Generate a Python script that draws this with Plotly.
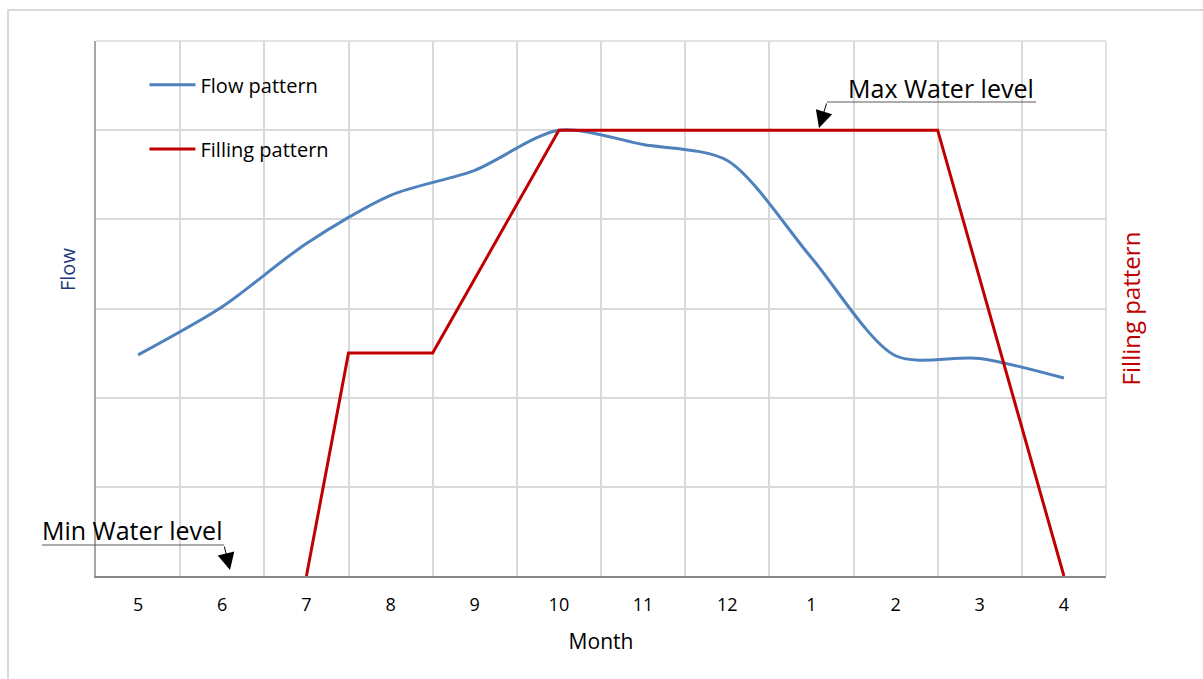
import plotly.graph_objects as go

months = ["5", "6", "7", "8", "9", "10", "11", "12", "1", "2", "3", "4"]
month_pos = list(range(len(months)))

flow_values = [2.48, 3.02, 3.73, 4.27, 4.55, 5.0, 4.84, 4.66, 3.57, 2.47, 2.44, 2.22]

fill_pos = [2, 2.5, 3.5, 5, 9.5, 11]
fill_values = [0, 2.5, 2.5, 5.0, 5.0, 0]

FONT = "Open Sans"
BLUE = "#4F81BD"
RED = "#C00000"
GRID = "#D9D9D9"

fig = go.Figure()
fig.add_trace(go.Scatter(x=month_pos, y=flow_values, mode="lines", name="Flow pattern",
                         line=dict(color=BLUE, width=3, shape="spline", smoothing=0.8),
                         legend="legend"))
fig.add_trace(go.Scatter(x=fill_pos, y=fill_values, mode="lines", name="Filling pattern",
                         line=dict(color=RED, width=3), yaxis="y2", legend="legend2"))

fig.update_layout(
    width=1203, height=679,
    margin=dict(l=96, r=97, t=41, b=103),
    paper_bgcolor="white", plot_bgcolor="white",
    font=dict(family=FONT, size=18, color="#000000"),
    xaxis=dict(range=[-0.5, 11.5], tickvals=month_pos, ticktext=months,
               showgrid=False, zeroline=False, showline=True, linecolor="#868686", linewidth=2,
               ticks="outside", ticklen=0, ticklabelstandoff=11, tickfont=dict(size=18),
               minor=dict(tick0=-0.5, dtick=1, showgrid=True, gridcolor=GRID, gridwidth=1.5),
               title=dict(text="Month", font=dict(size=21), standoff=20)),
    yaxis=dict(range=[0, 6], dtick=1, showticklabels=False, showgrid=True, gridcolor=GRID,
               gridwidth=1.5, zeroline=False, showline=True, linecolor="#A6A6A6", linewidth=2),
    yaxis2=dict(range=[0, 6], overlaying="y", side="right", showticklabels=False, showgrid=False,
                zeroline=False, showline=False,
                title=dict(text="Filling pattern", font=dict(size=24, color=RED), standoff=17)),
    legend=dict(x=0.048, y=0.918, xanchor="left", yanchor="middle", bgcolor="rgba(0,0,0,0)",
                font=dict(size=20), itemwidth=46),
    legend2=dict(x=0.048, y=0.798, xanchor="left", yanchor="middle", bgcolor="rgba(0,0,0,0)",
                 font=dict(size=20), itemwidth=46),
    showlegend=True,
)

# top and right frame gridlines
fig.add_shape(type="line", xref="paper", yref="paper", x0=0, x1=1, y0=1, y1=1,
              line=dict(color=GRID, width=1.5), layer="below")
fig.add_shape(type="line", xref="paper", yref="paper", x0=1, x1=1, y0=0, y1=1,
              line=dict(color=GRID, width=1.5), layer="below")

# Flow axis title
fig.add_annotation(text="Flow", xref="paper", yref="paper", x=(67 - 96) / 1010, y=(576 - 270) / 535,
                   xanchor="center", yanchor="middle",
                   textangle=-90, showarrow=False, font=dict(size=20, color="#1B3A78"))

# Max Water level
fig.add_annotation(text="Max Water level", xref="paper", yref="paper",
                   x=(941 - 96) / 1010, y=(576 - 88) / 535, xanchor="center", yanchor="middle",
                   showarrow=False, font=dict(size=25))
fig.add_shape(type="line", xref="paper", yref="paper", x0=(827 - 96) / 1010, x1=(1036 - 96) / 1010,
              y0=(576 - 102) / 535, y1=(576 - 102) / 535, line=dict(color="#595959", width=1))
fig.add_annotation(text="", xref="paper", yref="paper", x=(819 - 96) / 1010, y=(576 - 128) / 535,
                   ax=8, ay=-26, showarrow=True, arrowhead=2, arrowsize=3.4, arrowwidth=1,
                   arrowcolor="#000000")

# Min Water level
fig.add_annotation(text="Min Water level", xref="paper", yref="paper",
                   x=(132 - 96) / 1010, y=(576 - 530) / 535, xanchor="center", yanchor="middle",
                   showarrow=False, font=dict(size=25))
fig.add_shape(type="line", xref="paper", yref="paper", x0=(42 - 96) / 1010, x1=(224 - 96) / 1010,
              y0=(576 - 545) / 535, y1=(576 - 545) / 535, line=dict(color="#595959", width=1))
fig.add_annotation(text="", xref="paper", yref="paper", x=(230 - 96) / 1010, y=(576 - 570) / 535,
                   ax=-6, ay=-25, showarrow=True, arrowhead=2, arrowsize=3.4, arrowwidth=1,
                   arrowcolor="#000000")

# outer chart border
fig.add_shape(type="rect", xref="paper", yref="paper", x0=(8 - 96) / 1010, x1=(1240 - 96) / 1010,
              y0=(576 - 720) / 535, y1=(576 - 10) / 535, line=dict(color="#D9D9D9", width=2),
              layer="below")

fig.write_html("out.html", post_script="document.body.style.margin='0';",
               config={"displayModeBar": False})
